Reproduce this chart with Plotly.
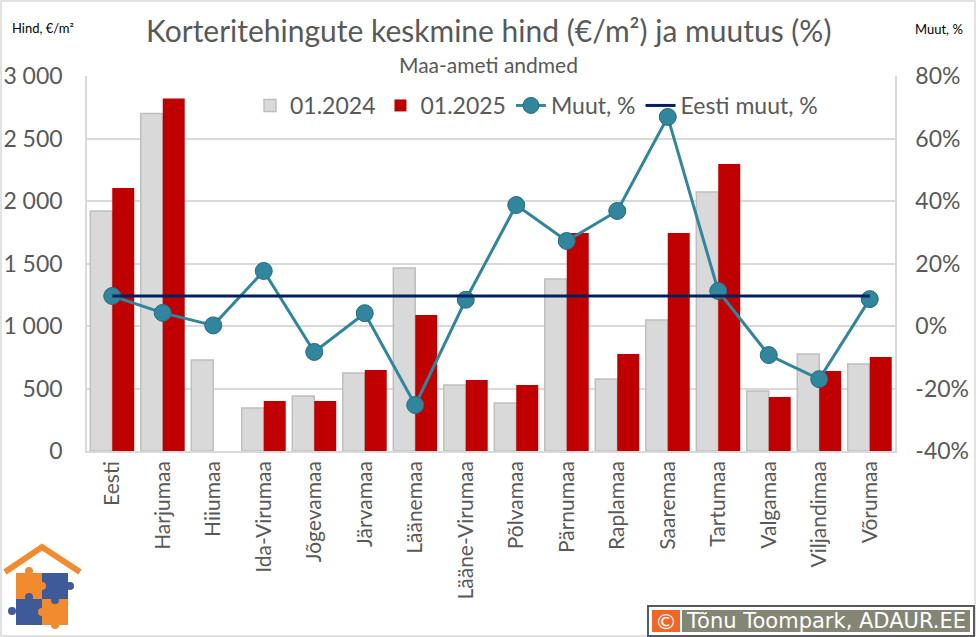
import plotly.graph_objects as go

# --- data ---
REGIONS = [
    "Eesti", "Harjumaa", "Hiiumaa", "Ida-Virumaa", "Jõgevamaa", "Järvamaa",
    "Läänemaa", "Lääne-Virumaa", "Põlvamaa", "Pärnumaa", "Raplamaa",
    "Saaremaa", "Tartumaa", "Valgamaa", "Viljandimaa", "Võrumaa",
]
PRICE_2024 = [1920, 2700, 728, 344, 440, 624, 1464, 528, 384, 1376, 576,
              1048, 2072, 480, 776, 696]
PRICE_2025 = [2104, 2820, None, 400, 400, 648, 1088, 568, 528, 1744, 776,
              1744, 2296, 432, 640, 752]
CHANGE_PCT = [9.6, 4.2, 0.2, 17.6, -8.3, 4.1, -25.3, 8.4, 38.7, 27.2, 36.8,
              66.9, 11.2, -9.3, -17.0, 8.6]
EESTI_CHANGE = [9.6] * len(REGIONS)

Y1_TICKS = [0, 500, 1000, 1500, 2000, 2500, 3000]
Y1_LABELS = ["0", "500", "1 000", "1 500", "2 000", "2 500", "3 000"]
Y2_TICKS = [-40, -20, 0, 20, 40, 60, 80]
Y2_LABELS = ["-40%", "-20%", "0%", "20%", "40%", "60%", "80%"]

FONT = "Lato, Open Sans, sans-serif"
TXT = "#595959"

# plot area in pixels (used to place the decorations outside it)
W, H = 976, 637
L, R, T, B = 87, 895, 76, 451


def px(x):
    return (x - L) / (R - L)


def py(y):
    return (B - y) / (B - T)


def label(text, x, y, size, color=TXT, xanchor="center", family=FONT):
    return dict(text=text, x=px(x), y=py(y), xref="paper", yref="paper",
                xanchor=xanchor, yanchor="middle", showarrow=False,
                font=dict(family=family, size=size, color=color))


fig = go.Figure()

fig.add_trace(go.Bar(
    x=REGIONS, y=PRICE_2024, name="01.2024",
    marker=dict(color="#d9d9d9", line=dict(color="#bfbfbf", width=1.5)),
))
fig.add_trace(go.Bar(
    x=REGIONS, y=PRICE_2025, name="01.2025",
    marker=dict(color="#c00000", line=dict(width=0)),
))
fig.add_trace(go.Scatter(
    x=REGIONS, y=CHANGE_PCT, name="Muut, %", yaxis="y2",
    mode="lines+markers",
    line=dict(color="#31859c", width=3),
    marker=dict(size=17, color="#31859c", line=dict(color="#276b7e", width=1)),
))
fig.add_trace(go.Scatter(
    x=REGIONS, y=EESTI_CHANGE, name="Eesti muut, %", yaxis="y2",
    mode="lines", line=dict(color="#002060", width=3),
))

shapes = []
# outer frame
shapes.append(dict(type="rect", xref="paper", yref="paper",
                   x0=px(1), x1=px(W - 1), y0=py(H - 1), y1=py(1),
                   line=dict(color="#d9d9d9", width=1.5), layer="below"))

# logo: roof + puzzle pieces
ORANGE, BLUE = "#f28a30", "#3f5a99"
shapes.append(dict(type="path", xref="paper", yref="paper",
                   path=f"M {px(5)},{py(572)} L {px(42)},{py(547)} L {px(80)},{py(572)}",
                   line=dict(color=ORANGE, width=6)))
for x0, y0, c in [(16, 573, ORANGE), (42, 573, BLUE),
                  (16, 599, BLUE), (42, 599, ORANGE)]:
    shapes.append(dict(type="rect", xref="paper", yref="paper",
                       x0=px(x0), x1=px(x0 + 26), y0=py(y0 + 26), y1=py(y0),
                       fillcolor=c, line=dict(width=0)))
for cx, cy, c in [(29, 571, ORANGE), (70, 586, BLUE), (12, 611, BLUE),
                  (55, 625, ORANGE), (29, 597, BLUE), (55, 600, BLUE),
                  (42, 612, ORANGE), (42, 586, ORANGE)]:
    r = 4
    shapes.append(dict(type="circle", xref="paper", yref="paper",
                       x0=px(cx - r), x1=px(cx + r), y0=py(cy + r), y1=py(cy - r),
                       fillcolor=c, line=dict(width=0)))

# copyright box
shapes.append(dict(type="rect", xref="paper", yref="paper",
                   x0=px(648), x1=px(974), y0=py(636), y1=py(606),
                   fillcolor="white", line=dict(color="#595959", width=2)))
shapes.append(dict(type="rect", xref="paper", yref="paper",
                   x0=px(652), x1=px(680), y0=py(632), y1=py(610),
                   fillcolor="#f26522", line=dict(width=0)))
shapes.append(dict(type="rect", xref="paper", yref="paper",
                   x0=px(682), x1=px(970), y0=py(632), y1=py(610),
                   fillcolor="#858575", line=dict(width=0)))

annotations = [
    label("Korteritehingute keskmine hind (€/m²) ja muutus (%)", 488, 30, 30),
    label("Maa-ameti andmed", 488, 65, 21),
    label("Hind, €/m²", 10, 28, 13, "black", "left"),
    label("Muut, %", 965, 29, 13, "black", "right"),
    label("©", 666, 621, 22, "white", family="DejaVu Sans"),
    label("Tõnu Toompark, ADAUR.EE", 826, 621, 21, "white", family="DejaVu Sans"),
]

fig.update_layout(
    width=W, height=H,
    margin=dict(l=L, r=W - R, t=T, b=H - B, autoexpand=False),
    paper_bgcolor="white", plot_bgcolor="white",
    barmode="group", bargap=0.13, bargroupgap=0,
    font=dict(family=FONT, color=TXT),
    showlegend=True,
    legend=dict(orientation="h", x=px(250), y=py(84), xanchor="left", yanchor="top",
                bgcolor="rgba(0,0,0,0)", font=dict(size=23, color=TXT),
                itemwidth=30, tracegroupgap=0),
    xaxis=dict(tickangle=-90, tickfont=dict(size=21, color=TXT), automargin=False,
               range=[-0.5, len(REGIONS) - 0.5],
               showline=True, linecolor="#d9d9d9", linewidth=1.5,
               ticks="", showgrid=False, mirror=False),
    yaxis=dict(range=[0, 3000], tickvals=Y1_TICKS, ticktext=Y1_LABELS,
               tickfont=dict(size=23, color=TXT), showgrid=True, automargin=False,
               gridcolor="#d9d9d9", gridwidth=1.5, zeroline=False,
               showline=True, linecolor="#d9d9d9", linewidth=1.5,
               ticks="outside", ticklen=18, tickcolor="white"),
    yaxis2=dict(range=[-40, 80], tickvals=Y2_TICKS, ticktext=Y2_LABELS,
                overlaying="y", side="right", showgrid=False, zeroline=False,
                tickfont=dict(size=23, color=TXT), automargin=False,
                ticks="outside", ticklen=14, tickcolor="white",
                showline=True, linecolor="#d9d9d9", linewidth=1.5),
    shapes=shapes,
    annotations=annotations,
)

fig.write_html("out.html", config={"displayModeBar": False},
               post_script="document.body.style.margin='0';")
